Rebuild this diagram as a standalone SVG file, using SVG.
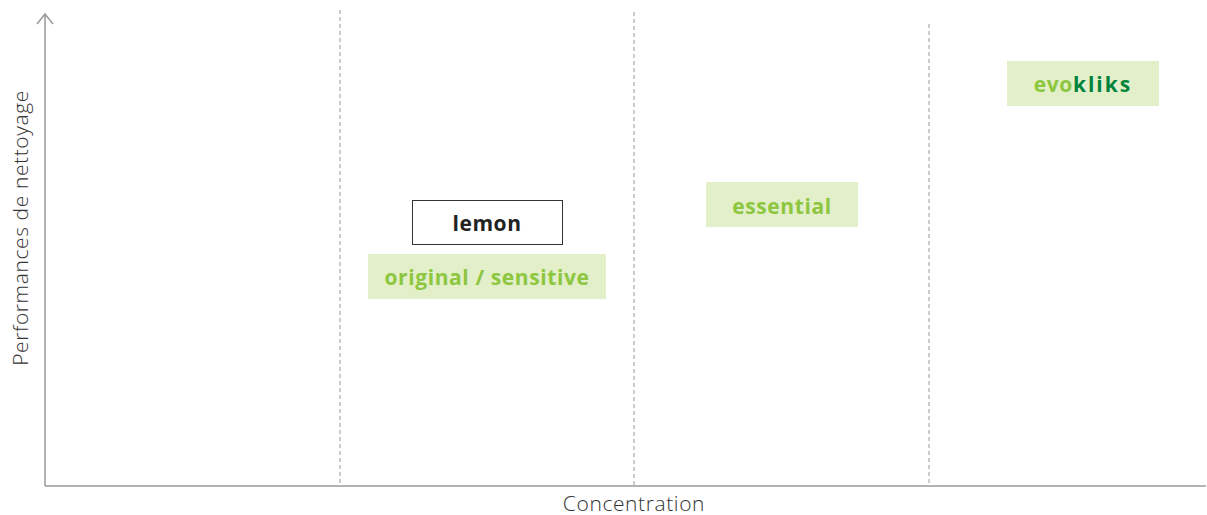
<svg xmlns="http://www.w3.org/2000/svg" width="1207" height="515" viewBox="0 0 1207 515">
<style>
.axis{stroke:#9a9a9a;stroke-width:1.5;fill:none}
.dash{stroke:#9a9a9a;stroke-width:1;stroke-dasharray:4,3;fill:none}
.lbl{font-family:"Open Sans","Liberation Sans",sans-serif;font-weight:300;font-size:21px;letter-spacing:0.6px;fill:#333}
.box{fill:#e2efc9}
.t{font-family:"Open Sans","Liberation Sans",sans-serif;font-weight:700;font-size:21px;letter-spacing:0.6px;text-anchor:middle;fill:#8dc63f}
</style>
<rect width="1207" height="515" fill="#fff"/>
<g id="axes">
<path class="axis" d="M45,486 V14 M37,24 L45,14 L53,24 M45,486 H1206"/>
<path class="dash" d="M340,10 V486 M634,12 V486 M929,24 V486"/>
<text class="lbl" x="634" y="511" text-anchor="middle">Concentration</text>
<text class="lbl" transform="translate(28,228) rotate(-90)" text-anchor="middle">Performances de nettoyage</text>
</g>
<g id="lemon">
<rect x="412.5" y="200.5" width="150" height="44" fill="#fff" stroke="#333" stroke-width="1"/>
<text class="t" x="487" y="230.5" style="fill:#222">lemon</text>
</g>
<g id="original">
<rect class="box" x="368" y="254" width="238" height="45"/>
<text class="t" x="487" y="285">original / sensitive</text>
</g>
<g id="essential">
<rect class="box" x="706" y="182" width="152" height="45"/>
<text class="t" x="782" y="214">essential</text>
</g>
<g id="evokliks">
<rect class="box" x="1007" y="61" width="152" height="45"/>
<text class="t" x="1083" y="92">evo<tspan style="fill:#00843d;letter-spacing:2px">kliks</tspan></text>
</g>
</svg>
